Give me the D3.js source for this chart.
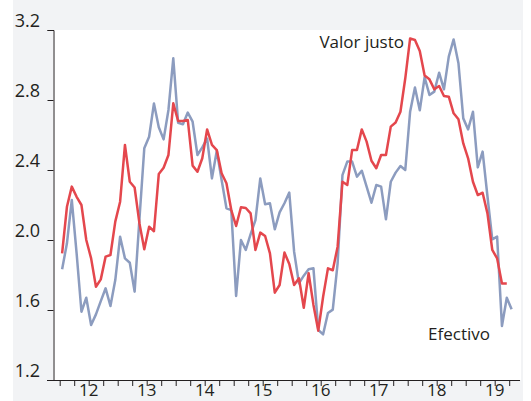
<!DOCTYPE html>
<html>
<head>
<meta charset="utf-8">
<script src="https://cdn.jsdelivr.net/npm/d3@7"></script>
<style>
  body { margin: 0; background: #fff; }
  svg { display: block; font-family: "Open Sans", sans-serif; }
</style>
</head>
<body>
<div id="chart"></div>
<script>
// monthly series, first value = July 2011 (mid-month)
const startYear = 2011, startMonth = 7;
const valorJusto = [1.924, 2.19, 2.305, 2.247, 2.2, 2.0, 1.895, 1.733, 1.775, 1.905, 1.914, 2.105,
  2.219, 2.543, 2.333, 2.30, 2.095, 1.947, 2.076, 2.05, 2.377, 2.413, 2.486, 2.781,
  2.68, 2.68, 2.686, 2.425, 2.39, 2.467, 2.632, 2.543, 2.514, 2.381, 2.324, 2.171,
  2.08, 2.187, 2.183, 2.152, 1.943, 2.042, 2.023, 1.924, 1.699, 1.743, 1.928, 1.863,
  1.743, 1.781, 1.613, 1.81, 1.629, 1.482, 1.676, 1.838, 1.827, 1.962, 2.333, 2.314,
  2.514, 2.514, 2.632, 2.562, 2.453, 2.41, 2.486, 2.486, 2.648, 2.671, 2.733, 2.924,
  3.152, 3.143, 3.08, 2.94, 2.918, 2.861, 2.88, 2.823, 2.819, 2.724, 2.69, 2.552,
  2.467, 2.333, 2.257, 2.27, 2.152, 1.943, 1.895, 1.752, 1.752];
const efectivo = [1.833, 1.981, 2.229, 1.924, 1.59, 1.67, 1.514, 1.575, 1.651, 1.724, 1.623, 1.771,
  2.019, 1.895, 1.87, 1.705, 2.12, 2.524, 2.59, 2.78, 2.644, 2.575, 2.743, 3.038,
  2.67, 2.661, 2.728, 2.676, 2.486, 2.529, 2.58, 2.352, 2.51, 2.343, 2.181, 2.171,
  1.68, 2.0, 1.943, 2.033, 2.114, 2.352, 2.204, 2.21, 2.061, 2.158, 2.21, 2.271,
  1.933, 1.752, 1.796, 1.833, 1.838, 1.486, 1.461, 1.583, 1.602, 1.867, 2.371, 2.448,
  2.448, 2.362, 2.396, 2.305, 2.213, 2.314, 2.305, 2.118, 2.333, 2.385, 2.423, 2.4,
  2.733, 2.872, 2.741, 2.93, 2.829, 2.848, 2.956, 2.861, 3.048, 3.146, 3.01, 2.695,
  2.632, 2.733, 2.415, 2.505, 2.25, 2.004, 2.019, 1.509, 1.67, 1.604];
const yTicks = [1.2, 1.6, 2.0, 2.4, 2.8, 3.2];
const yearLabels = [2012, 2013, 2014, 2015, 2016, 2017, 2018, 2019];
const seriesNames = ["Valor justo", "Efectivo"];

const W = 531, H = 401;
const plot = { left: 53, right: 520, top: 30, bottom: 380 };

const svg = d3.select("#chart").append("svg")
  .attr("width", W)
  .attr("height", H);

// grey frame + white plot area
svg.append("rect").attr("x", 13).attr("y", 0).attr("width", 510).attr("height", H).attr("fill", "#f2f3f5");
svg.append("rect").attr("x", plot.left).attr("y", plot.top)
  .attr("width", plot.right + 1 - plot.left).attr("height", plot.bottom - plot.top).attr("fill", "#fff");

// x: years as numbers, 58px a year
const x = d3.scaleLinear()
  .domain([2012 - 35.7 / 58, 2012 + 431.3 / 58])
  .range([plot.left, plot.right]);
const y = d3.scaleLinear().domain([1.2, 3.2]).range([plot.bottom, plot.top]);

const toPoints = vals => vals.map((v, i) => ({
  t: startYear + (startMonth - 1 + i + 0.5) / 12,
  v: v
}));

const line = d3.line().x(d => x(d.t)).y(d => y(d.v));

const ink = "#231f20";

// quarterly ticks
const qTicks = d3.range(2011.5, 2019.3, 0.25);
svg.append("g")
  .attr("transform", `translate(0, ${plot.bottom})`)
  .call(d3.axisBottom(x).tickValues(qTicks).tickSize(6).tickFormat(""))
  .call(g => g.select(".domain").attr("d", `M${plot.left - 6},0.5H${plot.right}`))
  .call(g => g.selectAll("line, path").attr("stroke", ink));

svg.append("g").selectAll("text")
  .data(yearLabels)
  .join("text")
  .attr("x", d => x(d))
  .attr("y", 396)
  .attr("text-anchor", "middle")
  .attr("fill", ink)
  .style("font-size", "17px")
  .text(d => String(d).slice(2));

// y axis
svg.append("g")
  .attr("transform", `translate(${plot.left + 0.5}, 0)`)
  .call(d3.axisLeft(y).tickValues(yTicks).tickSize(6).tickFormat(""))
  .call(g => g.selectAll("line, path").attr("stroke", ink));

svg.append("g").selectAll("text")
  .data(yTicks)
  .join("text")
  .attr("x", 40)
  .attr("y", d => y(d) - 3)
  .attr("text-anchor", "end")
  .attr("fill", ink)
  .style("font-size", "18px")
  .text(d => d3.format(".1f")(d));

// lines
const colors = ["#e4474d", "#8c9cbf"];
svg.append("path")
  .datum(toPoints(efectivo))
  .attr("fill", "none")
  .attr("stroke", colors[1])
  .attr("stroke-width", 2.5)
  .attr("stroke-linejoin", "round")
  .attr("d", line);
svg.append("path")
  .datum(toPoints(valorJusto))
  .attr("fill", "none")
  .attr("stroke", colors[0])
  .attr("stroke-width", 2.5)
  .attr("stroke-linejoin", "round")
  .attr("d", line);

// labels
svg.append("text")
  .attr("x", 404).attr("y", 48)
  .attr("text-anchor", "end")
  .attr("fill", ink)
  .style("font-size", "17px")
  .style("font-weight", 500)
  .text(seriesNames[0]);
svg.append("text")
  .attr("x", 490).attr("y", 340)
  .attr("text-anchor", "end")
  .attr("fill", ink)
  .style("font-size", "17px")
  .style("font-weight", 500)
  .text(seriesNames[1]);
</script>
</body>
</html>
